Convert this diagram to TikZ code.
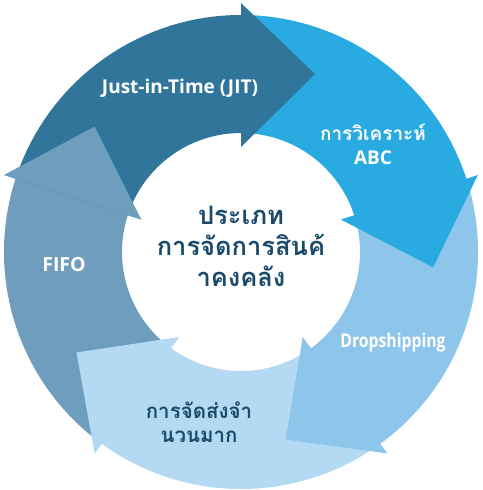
\documentclass[tikz,border=0pt]{standalone}
\usepackage{fontspec}
\usepackage{graphicx}
\setmainfont{Open Sans}
\newfontfamily\thai[Script=Thai]{Loma}
\definecolor{cjit}{HTML}{31769A}
\definecolor{cabc}{HTML}{29AAE1}
\definecolor{cdrop}{HTML}{8EC5EB}
\definecolor{cbulk}{HTML}{B3D9F3}
\definecolor{cfifo}{HTML}{6F9DBE}
\definecolor{ctext}{HTML}{1B4A6B}
\newcommand\arrowseg[3]{%
  \fill[#3] (#1:237) arc[start angle=#1,end angle=#2,radius=237] -- (#2:249)
    -- ([shift={(#2-90:74)}]#2:178) -- (#2:105) -- (#2:119)
    arc[start angle=#2,end angle=#1,radius=119] -- cycle;}
\newcommand\arrowhd[2]{%
  \fill[#2] (#1:249) -- ([shift={(#1-90:74)}]#1:178) -- (#1:105) -- cycle;}
\begin{document}
\begin{tikzpicture}[x=1pt,y=1pt,
  lbl/.style={text=white,font=\bfseries\fontsize{19}{24}\selectfont,align=center,inner sep=0pt},
  dlbl/.style={lbl,text=ctext,font=\bfseries\fontsize{20.5}{24}\selectfont},
  ctr/.style={text=ctext,font=\thai\bfseries\fontsize{25.5}{31}\selectfont,align=center,inner sep=0pt}]
\useasboundingbox (-241,-238) rectangle (241,252);
\arrowseg{234}{162}{cfifo}
\arrowseg{-54}{-126}{cbulk}
\arrowseg{18}{-54}{cdrop}
\arrowseg{90}{18}{cabc}
\arrowseg{162}{90}{cjit}
\arrowhd{162}{cfifo}
\node[lbl] (jit) at (-61,164) {Just-in-Time (JIT)};
\node[lbl] (abc) at (132,108) {{\thai การวิเคราะห์}\\ABC};
\node[lbl] (drop) at (152,-91) {\scalebox{0.83}[1]{Dropshipping}};
\node[dlbl] (bulk) at (-42,-170) {\thai การจัดส่งจำ\\\thai นวนมาก};
\node[lbl] (fifo) at (-177,-13) {\fontsize{19.5}{24}\selectfont FIFO};
\node[ctr] (center) at (0,6) {ประเภท\\การจัดการสินค้\\าคงคลัง};
\end{tikzpicture}
\end{document}
